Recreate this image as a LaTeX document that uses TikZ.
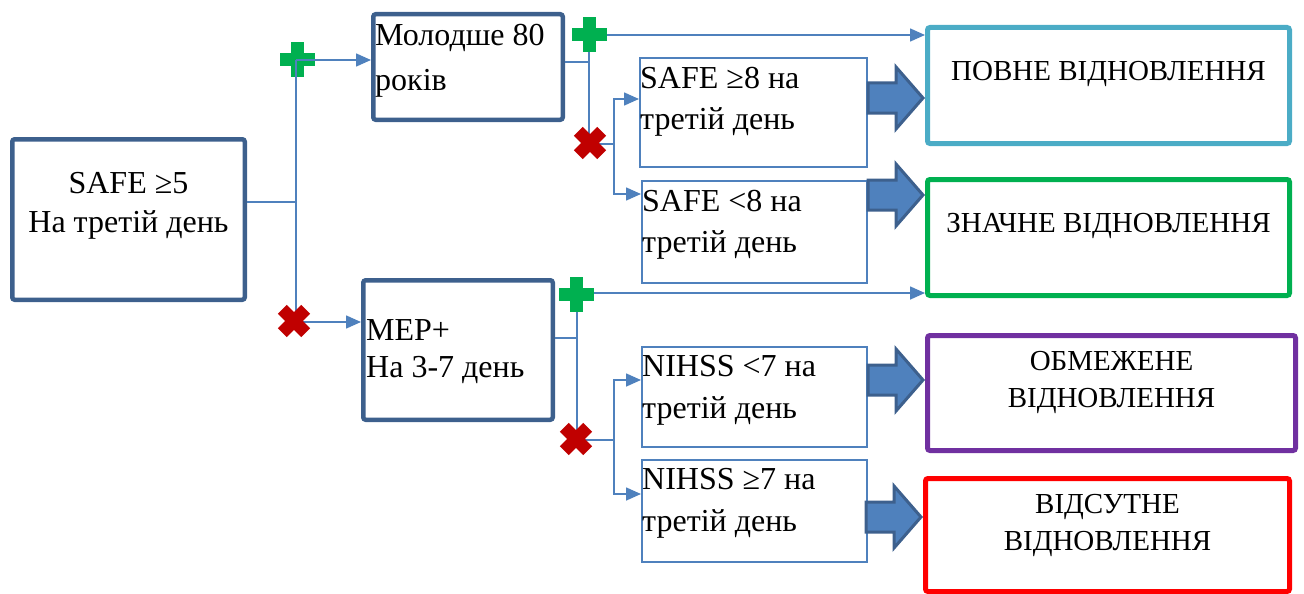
\documentclass[tikz,border=0pt]{standalone}
\usepackage{fontspec}
\setmainfont{Liberation Serif}
\usetikzlibrary{arrows.meta,calc}
\definecolor{boxblue}{RGB}{61,96,141}
\definecolor{lineblue}{RGB}{79,129,189}
\definecolor{mgreen}{RGB}{0,176,80}
\definecolor{mred}{RGB}{192,0,0}
\definecolor{rcyan}{RGB}{75,172,198}
\definecolor{rgreen}{RGB}{0,176,80}
\definecolor{rpurple}{RGB}{112,48,160}
\definecolor{rred}{RGB}{255,0,0}
\begin{document}
\begin{tikzpicture}[x=1pt,y=-1pt,
  thickbox/.style={draw=boxblue, line width=4.5pt, rounded corners=2.5pt, inner sep=0pt},
  thinbox/.style={draw=lineblue, line width=1.6pt, inner sep=0pt},
  resbox/.style={line width=5pt, rounded corners=2.5pt, inner sep=0pt},
  bigtxt/.style={font=\fontsize{32}{39}\selectfont, inner sep=0pt, align=left},
  restxt/.style={font=\fontsize{29}{37}\selectfont, inner sep=0pt, align=center},
  conn/.style={draw=lineblue, line width=1.6pt},
  arr/.style={-{Triangle[length=15pt,width=13pt]}},
  plusmark/.pic={\fill[mgreen] (-6.5,-17.5) rectangle (6.5,17.5);
                 \fill[mgreen] (-17.5,-6.5) rectangle (17.5,6.5);},
  crossmark/.pic={\begin{scope}[rotate=45]
                 \fill[mred] (-6.2,-16.5) rectangle (6.2,16.5);
                 \fill[mred] (-16.5,-6.2) rectangle (16.5,6.2);\end{scope}},
  fatarrow/.pic={\filldraw[fill=lineblue, draw=boxblue, line width=3pt, line join=miter]
                 (0,0) -- (-27,-31) -- (-27,-15) -- (-55,-15) -- (-55,15) -- (-27,15) -- (-27,31) -- cycle;}
]
\useasboundingbox (0,0) rectangle (1304,594);

% boxes
\node[thickbox, minimum width=232.5, minimum height=160.5] (A) at (128.5,219.5) {};
\node[thickbox, minimum width=189.5, minimum height=105.5] (B) at (468,67) {};
\node[thickbox, minimum width=189.5, minimum height=139.5] (C) at (458,350) {};
\node[thinbox, minimum width=227.4, minimum height=109.4] (D1) at (753.5,112.5) {};
\node[thinbox, minimum width=225.4, minimum height=102.4] (D2) at (754.5,232) {};
\node[thinbox, minimum width=225.4, minimum height=100.4] (D3) at (754.5,397) {};
\node[thinbox, minimum width=225.4, minimum height=102.4] (D4) at (754.5,511) {};
\node[resbox, draw=rcyan, minimum width=362, minimum height=116] (R1) at (1108.5,85.5) {};
\node[resbox, draw=rgreen, minimum width=362, minimum height=116] (R2) at (1108.5,237.5) {};
\node[resbox, draw=rpurple, minimum width=368, minimum height=115] (R3) at (1111.5,393) {};
\node[resbox, draw=rred, minimum width=364, minimum height=113] (R4) at (1107.5,535) {};

% texts (base anchor = baseline of the last line)
\node[bigtxt, align=center, anchor=base] (tA) at ($(A.north)+(0,95)$) {SAFE ≥5\\На третій день};
\node[bigtxt, font=\fontsize{32}{45}\selectfont, anchor=base west] (tB) at ($(B.north west)+(4,79)$) {Молодше 80\\років};
\node[bigtxt, font=\fontsize{32}{37}\selectfont, anchor=base west] (tC) at ($(C.north west)+(5,99)$) {MEP+\\На 3-7 день};
\node[bigtxt, font=\fontsize{32}{41}\selectfont, anchor=base west] (tD1) at ($(D1.north west)+(1,72)$) {SAFE ≥8 на\\третій день};
\node[bigtxt, font=\fontsize{32}{41}\selectfont, anchor=base west] (tD2) at ($(D2.north west)+(1,72)$) {SAFE <8 на\\третій день};
\node[bigtxt, font=\fontsize{32}{42}\selectfont, anchor=base west] (tD3) at ($(D3.north west)+(1,72)$) {NIHSS <7 на\\третій день};
\node[bigtxt, font=\fontsize{32}{42}\selectfont, anchor=base west] (tD4) at ($(D4.north west)+(1,72)$) {NIHSS ≥7 на\\третій день};
\node[restxt, anchor=base] (tR1) at ($(R1.north)+(0,56)$) {ПОВНЕ ВІДНОВЛЕННЯ};
\node[restxt, anchor=base] (tR2) at ($(R2.north)+(0,55)$) {ЗНАЧНЕ ВІДНОВЛЕННЯ};
\node[restxt, anchor=base] (tR3) at ($(R3.north)+(0,74)$) {ОБМЕЖЕНЕ\\ВІДНОВЛЕННЯ};
\node[restxt, anchor=base] (tR4) at ($(R4.north)+(0,74)$) {ВІДСУТНЕ\\ВІДНОВЛЕННЯ};

% junction points
\coordinate (jA) at (296,202);
\coordinate (pA) at (296,60);
\coordinate (xA) at (296,322);
\coordinate (jB) at (589,62);
\coordinate (pB) at (589,35);
\coordinate (xB) at (589,144);
\coordinate (kB) at (614,144);
\coordinate (jC) at (577,338);
\coordinate (pC) at (577,293);
\coordinate (xC) at (577,440);
\coordinate (kC) at (614,440);

% group A
\pic at (297,60) {plusmark};
\draw[conn] (A.east |- jA) -- (jA);
\draw[conn] (pA) -- (xA);
\draw[conn, arr] (pA) -- (pA -| B.west);
\draw[conn, arr] (xA) -- (xA -| C.west);
\pic at (294,321) {crossmark};

% group B
\draw[conn] (B.east |- jB) -- (jB);
\draw[conn] (pB) -- (xB);
\draw[conn, arr] (pB) -- (pB -| R1.west);
\draw[conn] (xB) -- (kB);
\draw[conn, arr] (kB) |- (D1.west |- 0,99);
\draw[conn, arr] (kB) |- (D2.west |- 0,194);
\pic at (589,35) {plusmark};
\pic at (590,143) {crossmark};

% group C
\draw[conn] (C.east |- jC) -- (jC);
\draw[conn] (pC) -- (xC);
\draw[conn, arr] (pC) -- (pC -| R2.west);
\draw[conn] (xC) -- (kC);
\draw[conn, arr] (kC) |- (D3.west |- 0,380);
\draw[conn, arr] (kC) |- (D4.west |- 0,494);
\pic at (576,294) {plusmark};
\pic at (576,439) {crossmark};

% fat arrows
\pic at ($(R1.west)+(-2,12.5)$) {fatarrow};
\pic at ($(R2.west)+(-2,-42.5)$) {fatarrow};
\pic at ($(R3.west)+(-2,-13)$) {fatarrow};
\pic at ($(R4.west)+(-2,-18)$) {fatarrow};
\end{tikzpicture}
\end{document}
